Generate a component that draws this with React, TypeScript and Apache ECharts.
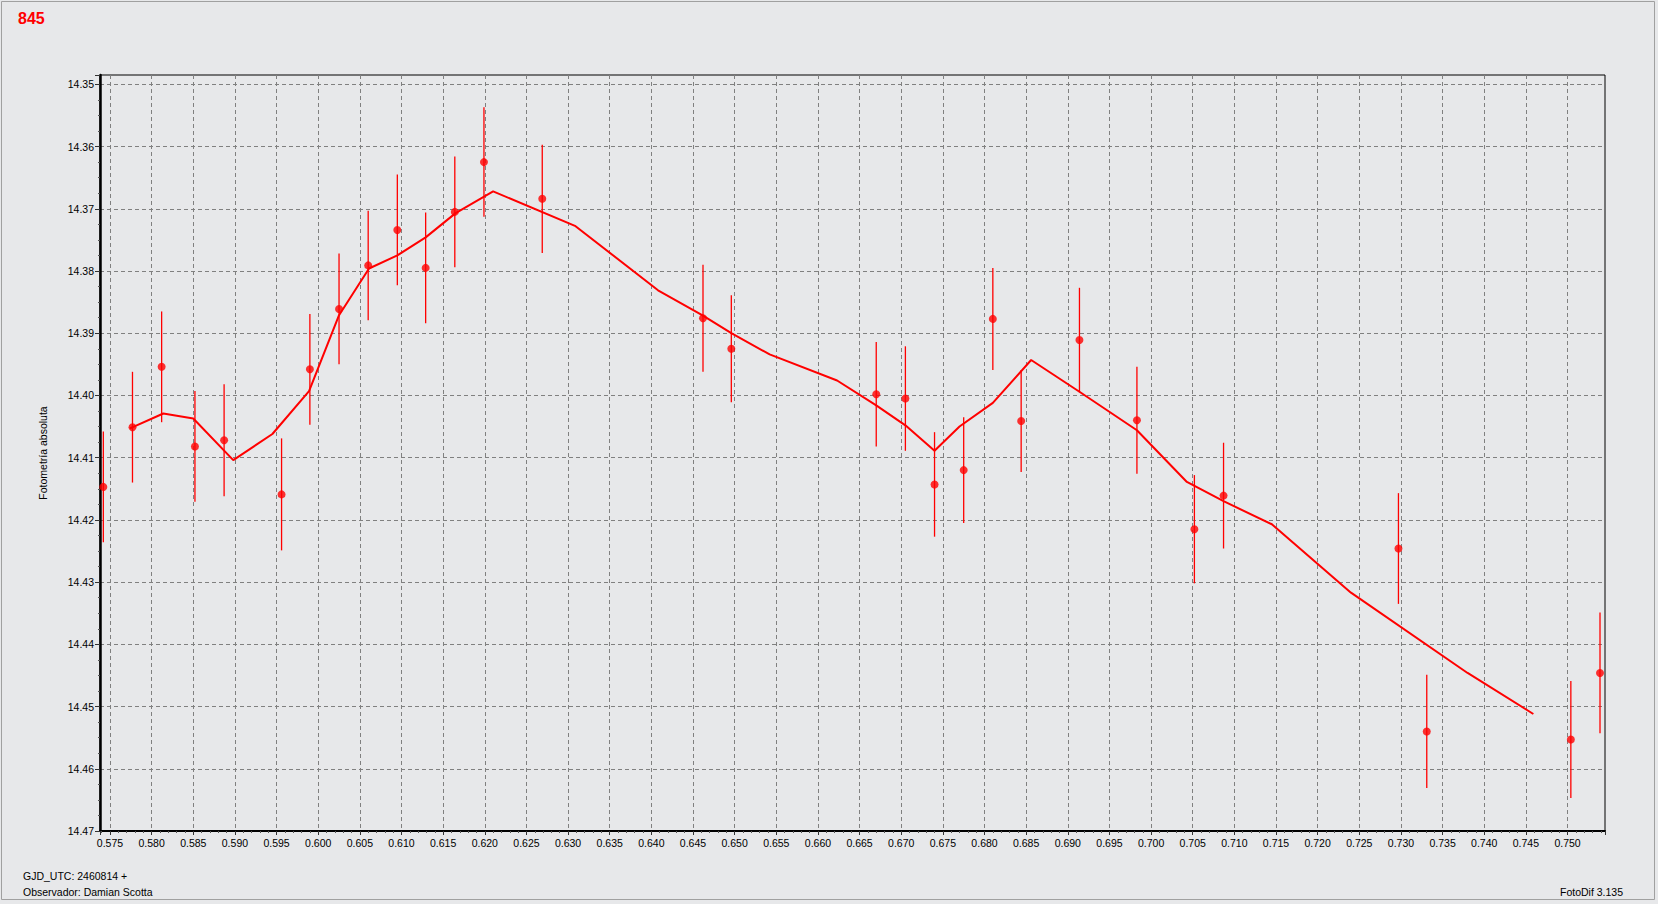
import React, { useEffect, useRef } from "react";
import * as echarts from "echarts";

// Observed points (phase, magnitude, error)
const phase = [0.5742, 0.5777, 0.5812, 0.5852, 0.5887, 0.5956, 0.5990, 0.6025, 0.6060, 0.6095, 0.6129, 0.6164, 0.6199, 0.6269, 0.6462, 0.6496, 0.6670, 0.6705, 0.6740, 0.6775, 0.6810, 0.6844, 0.6914, 0.6983, 0.7052, 0.7087, 0.7297, 0.7331, 0.7504, 0.7539];
const mag = [14.4147, 14.4051, 14.3954, 14.4082, 14.4072, 14.4159, 14.3958, 14.3861, 14.3791, 14.3734, 14.3795, 14.3705, 14.3625, 14.3684, 14.3876, 14.3925, 14.3998, 14.4005, 14.4143, 14.4120, 14.3877, 14.4041, 14.3911, 14.4040, 14.4215, 14.4161, 14.4246, 14.4540, 14.4553, 14.4446];
const err = [0.0089, 0.0089, 0.0089, 0.0089, 0.0090, 0.0090, 0.0089, 0.0089, 0.0088, 0.0089, 0.0089, 0.0089, 0.0088, 0.0087, 0.0086, 0.0086, 0.0084, 0.0084, 0.0084, 0.0085, 0.0082, 0.0082, 0.0084, 0.0086, 0.0087, 0.0085, 0.0089, 0.0091, 0.0094, 0.0097];

// Fitted model curve
const modelX = [0.5774, 0.5814, 0.5850, 0.5898, 0.5945, 0.5989, 0.6025, 0.6061, 0.6095, 0.6129, 0.6165, 0.6210, 0.6309, 0.6408, 0.6461, 0.6496, 0.6542, 0.6623, 0.6670, 0.6705, 0.6740, 0.6770, 0.6810, 0.6856, 0.6914, 0.6983, 0.7043, 0.7087, 0.7145, 0.7240, 0.7380, 0.7459];
const modelY = [14.4053, 14.4029, 14.4037, 14.4104, 14.4062, 14.3993, 14.3871, 14.3796, 14.3775, 14.3746, 14.3707, 14.3672, 14.3728, 14.3831, 14.3871, 14.3900, 14.3934, 14.3976, 14.4016, 14.4048, 14.4089, 14.4050, 14.4012, 14.3943, 14.3994, 14.4056, 14.4139, 14.4170, 14.4207, 14.4317, 14.4446, 14.4512];

const titleText = "845";
const yAxisName = "Fotometría absoluta";
const footerLeft1 = "GJD_UTC: 2460814 +";
const footerLeft2 = "Observador: Damian Scotta";
const footerRight = "FotoDif 3.135";

const FONT = "'Liberation Sans', Arial, sans-serif";

export default function App() {
  const ref = useRef<HTMLDivElement>(null);
  useEffect(() => {
    if (!ref.current) return;
    const chart = echarts.init(ref.current, null, { renderer: "svg" });
    const points = phase.map((x, i) => [x, mag[i]]);
    const bars = phase.map((x, i) => [x, mag[i], err[i]]);
    const model = modelX.map((x, i) => [x, modelY[i]]);
    chart.setOption({
      animation: false,
      backgroundColor: "#e7e8ea",
      textStyle: { fontFamily: FONT },
      grid: {
        left: 100,
        right: 53,
        top: 75,
        bottom: 73,
        show: true,
        borderColor: "#000",
        borderWidth: 1,
        backgroundColor: "transparent",
      },
      xAxis: {
        type: "value",
        min: 0.5738,
        max: 0.7545,
        splitNumber: 36,
        axisLine: { show: true, onZero: false, lineStyle: { color: "#000", width: 2 } },
        axisTick: { show: true, length: 4, lineStyle: { color: "#333", width: 1 } },
        minorTick: { show: true, splitNumber: 5, length: 2, lineStyle: { color: "#555", width: 1 } },
        axisLabel: {
          showMinLabel: false,
          showMaxLabel: false,
          margin: 6,
          color: "#000",
          fontSize: 10.5,
          fontFamily: FONT,
          formatter: (v: number) =>
            Math.abs(v * 200 - Math.round(v * 200)) < 1e-6 ? v.toFixed(3) : "",
        },
        splitLine: {
          show: true,
          showMinLine: false,
          showMaxLine: false,
          lineStyle: { color: "#808080", type: [4, 3], width: 1 },
        },
      },
      yAxis: {
        type: "value",
        inverse: true,
        min: 14.3485,
        max: 14.47,
        splitNumber: 12,
        name: yAxisName,
        nameLocation: "middle",
        nameGap: 52,
        nameRotate: 90,
        nameTextStyle: { color: "#000", fontSize: 10.5, fontFamily: FONT },
        axisLine: { show: true, onZero: false, lineStyle: { color: "#000", width: 2.5 } },
        axisTick: { show: true, length: 5, lineStyle: { color: "#333", width: 1 } },
        minorTick: { show: true, splitNumber: 4, length: 2, lineStyle: { color: "#555", width: 1 } },
        axisLabel: {
          showMinLabel: false,
          margin: 6,
          color: "#000",
          fontSize: 10.5,
          fontFamily: FONT,
          formatter: (v: number) =>
            Math.abs(v * 100 - Math.round(v * 100)) < 1e-6 ? v.toFixed(2) : "",
        },
        splitLine: {
          show: true,
          showMinLine: false,
          showMaxLine: false,
          lineStyle: { color: "#808080", type: [4, 3], width: 1 },
        },
      },
      series: [
        {
          type: "line",
          data: model,
          showSymbol: false,
          symbol: "none",
          lineStyle: { color: "#ff0000", width: 2 },
          z: 3,
        },
        {
          type: "custom",
          data: bars,
          encode: { x: 0, y: 1 },
          z: 4,
          renderItem: (params: any, api: any) => {
            const x = api.value(0);
            const y = api.value(1);
            const e = api.value(2);
            const p1 = api.coord([x, y - e]);
            const p2 = api.coord([x, y + e]);
            return {
              type: "line",
              shape: { x1: p1[0], y1: p1[1], x2: p2[0], y2: p2[1] },
              style: { stroke: "#ff0000", lineWidth: 1.3 },
            };
          },
        },
        {
          type: "scatter",
          data: points,
          symbol: "circle",
          symbolSize: 8,
          itemStyle: { color: "#ff0000" },
          z: 5,
        },
      ],
      graphic: [
        {
          type: "rect",
          shape: { x: 1.5, y: 1.5, width: 1653, height: 898 },
          style: { fill: "none", stroke: "#a0a0a0", lineWidth: 1 },
          silent: true,
        },
        {
          type: "text",
          left: 18,
          top: 10,
          style: {
            text: titleText,
            fill: "#ff0000",
            font: `bold 16px ${FONT}`,
          },
        },
        {
          type: "text",
          left: 23,
          top: 870,
          style: { text: footerLeft1, fill: "#000", font: `10.5px ${FONT}` },
        },
        {
          type: "text",
          left: 23,
          top: 886,
          style: { text: footerLeft2, fill: "#000", font: `10.5px ${FONT}` },
        },
        {
          type: "text",
          right: 35,
          top: 886,
          style: { text: footerRight, fill: "#000", font: `10.5px ${FONT}` },
        },
      ],
    });
    return () => chart.dispose();
  }, []);
  return (
    <div
      ref={ref}
      style={{ position: "fixed", left: 0, top: 0, width: 1658, height: 904, background: "#e7e8ea" }}
    />
  );
}
